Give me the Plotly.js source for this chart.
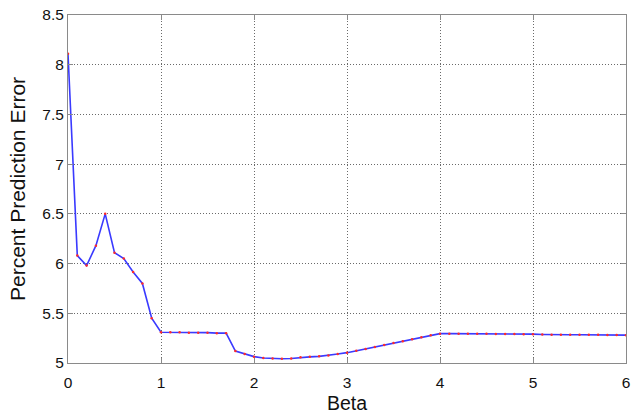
<!DOCTYPE html>
<html>
<head>
<meta charset="utf-8">
<script src="https://cdn.plot.ly/plotly-3.0.1.min.js"></script>
<style>html,body{margin:0;padding:0;background:#fff;}#chart{width:632px;height:417px;}</style>
</head>
<body>
<div id="chart"></div>
<script>
const beta = [0.0,0.1,0.2,0.3,0.4,0.5,0.6,0.7,0.8,0.9,
  1.0,1.1,1.2,1.3,1.4,1.5,1.6,1.7,1.8,1.9,
  2.0,2.1,2.2,2.3,2.4,2.5,2.6,2.7,2.8,2.9,
  3.0,3.1,3.2,3.3,3.4,3.5,3.6,3.7,3.8,3.9,
  4.0,4.1,4.2,4.3,4.4,4.5,4.6,4.7,4.8,4.9,
  5.0,5.1,5.2,5.3,5.4,5.5,5.6,5.7,5.8,5.9,6.0];
const errorPct = [8.11,6.08,5.98,6.18,6.50,6.11,6.05,5.915,5.80,5.45,
  5.31,5.31,5.31,5.305,5.305,5.305,5.30,5.30,5.12,5.09,
  5.064,5.05,5.045,5.042,5.045,5.057,5.062,5.067,5.075,5.09,
  5.104,5.123,5.14,5.16,5.18,5.20,5.22,5.24,5.26,5.28,
  5.295,5.295,5.295,5.295,5.295,5.295,5.292,5.292,5.292,5.29,
  5.29,5.287,5.284,5.284,5.284,5.284,5.283,5.283,5.281,5.281,5.28];
const xTicks = [0,1,2,3,4,5,6];
const yTicks = [5,5.5,6,6.5,7,7.5,8,8.5];

const traces = [
  {x: beta, y: errorPct, type: 'scatter', mode: 'lines',
   line: {color: '#3a3aff', width: 1.6}, hoverinfo: 'skip', showlegend: false},
  {x: beta, y: errorPct, type: 'scatter', mode: 'markers',
   marker: {color: '#ff2a2a', size: 2.5}, hoverinfo: 'skip', showlegend: false}
];

const FONT = 'Liberation Sans, Arial, sans-serif';
const axisCommon = {
  showline: true, mirror: 'ticks', linecolor: '#8a8a8a', linewidth: 1,
  showgrid: true, gridcolor: '#6a6a6a', griddash: '1px,2px', gridwidth: 1,
  ticks: 'inside', ticklen: 5, tickcolor: '#8a8a8a', zeroline: false,
  tickfont: {family: FONT, size: 15.5, color: '#111'}
};

const layout = {
  width: 632, height: 417,
  margin: {l: 68, r: 6, t: 15, b: 54},
  paper_bgcolor: '#fff', plot_bgcolor: '#fff',
  xaxis: Object.assign({}, axisCommon, {
    range: [0, 6], tickvals: xTicks, ticktext: xTicks.map(String),
    ticklabelstandoff: 5,
    title: {text: 'Beta', standoff: 6,
      font: {family: FONT, size: 19.5, color: '#111'}}
  }),
  yaxis: Object.assign({}, axisCommon, {
    range: [5, 8.5], tickvals: yTicks, ticktext: yTicks.map(String),
    title: {text: 'Percent Prediction Error', standoff: 10,
      font: {family: FONT, size: 21, color: '#111'}}
  })
};

Plotly.newPlot('chart', traces, layout, {staticPlot: true, displayModeBar: false});
</script>
</body>
</html>
